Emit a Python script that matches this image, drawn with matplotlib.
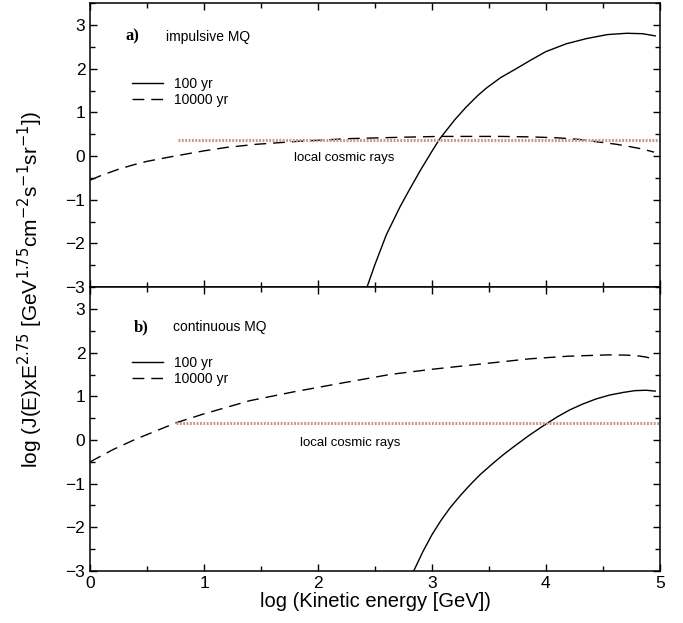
import numpy as np
import matplotlib
matplotlib.use("Agg")
import matplotlib.pyplot as plt
from matplotlib.lines import Line2D
from matplotlib.ticker import MultipleLocator

plt.rcParams['font.family'] = ['Liberation Sans', 'DejaVu Sans']

# panel a) impulsive MQ
imp_100_x = [2.43, 2.5, 2.6, 2.72, 2.8, 2.9, 3.0, 3.07, 3.2, 3.3, 3.4, 3.48,
             3.6, 3.74, 3.87, 4.0, 4.18, 4.36, 4.54, 4.71, 4.85, 4.96]
imp_100_y = [-3.0, -2.48, -1.8, -1.16, -0.78, -0.32, 0.11, 0.4, 0.83, 1.12, 1.38, 1.56,
             1.79, 2.0, 2.2, 2.39, 2.57, 2.69, 2.78, 2.81, 2.8, 2.75]
imp_1e4_x = [0.0, 0.1, 0.25, 0.38, 0.5, 0.7, 0.85, 1.0, 1.2, 1.46, 1.84, 2.28, 2.72,
             3.07, 3.6, 3.85, 4.09, 4.3, 4.47, 4.62, 4.75, 4.85, 4.95]
imp_1e4_y = [-0.55, -0.44, -0.3, -0.2, -0.12, -0.02, 0.05, 0.12, 0.2, 0.27, 0.34, 0.4, 0.43,
             0.45, 0.45, 0.44, 0.42, 0.38, 0.32, 0.27, 0.21, 0.16, 0.09]
imp_local_x = [0.77, 5.0]
imp_local_y = [0.37, 0.37]

# panel b) continuous MQ
con_100_x = [2.84, 2.92, 3.0, 3.08, 3.16, 3.25, 3.33, 3.42, 3.52, 3.62, 3.72, 3.85,
             3.98, 4.1, 4.21, 4.32, 4.44, 4.56, 4.68, 4.78, 4.88, 4.96]
con_100_y = [-3.0, -2.56, -2.17, -1.84, -1.55, -1.27, -1.04, -0.8, -0.57, -0.35, -0.15, 0.1,
             0.33, 0.53, 0.69, 0.82, 0.94, 1.03, 1.09, 1.13, 1.14, 1.12]
con_1e4_x = [0.0, 0.2, 0.4, 0.76, 1.0, 1.4, 1.78, 2.2, 2.63, 3.0, 3.5, 3.86, 4.2,
             4.55, 4.7, 4.8, 4.88, 4.95]
con_1e4_y = [-0.5, -0.22, 0.02, 0.4, 0.6, 0.9, 1.1, 1.3, 1.5, 1.62, 1.76, 1.86, 1.92,
             1.95, 1.945, 1.93, 1.9, 1.85]
con_local_x = [0.75, 5.0]
con_local_y = [0.40, 0.40]

series_labels = ['100 yr', '10000 yr']

DASH = (8.5, 5)
CR_COLOR = '#cc9292'

fig = plt.figure(figsize=(6.83, 6.23), dpi=100)
ax_a = fig.add_axes([0.132, 0.539, 0.834, 0.456])
ax_b = fig.add_axes([0.132, 0.0835, 0.834, 0.4555])


def draw_panel(ax, x100, y100, x1e4, y1e4, xl, yl, tag, title, txt_xy, leg_y):
    ax.plot(x100, y100, color='black', lw=1.0)
    ax.plot(x1e4, y1e4, color='black', lw=1.0, dashes=DASH)
    ax.plot(xl, yl, color=CR_COLOR, lw=2.2, linestyle=(0, (0.6, 0.5)))

    ax.set_xlim(0, 5)
    ax.set_ylim(-3, 3.5)
    ax.xaxis.set_major_locator(MultipleLocator(1))
    ax.xaxis.set_minor_locator(MultipleLocator(0.5))
    ax.yaxis.set_major_locator(MultipleLocator(1))
    ax.yaxis.set_minor_locator(MultipleLocator(0.5))
    ax.tick_params(which='both', direction='in', top=True, right=True,
                   labelsize=12.5, width=1.0)
    ax.tick_params(which='major', length=5)
    ax.tick_params(which='minor', length=3.5)
    for s in ax.spines.values():
        s.set_linewidth(1.1)

    ax.text(tag[0], tag[1], tag[2], fontsize=12, fontweight='bold',
            family=['Liberation Serif', 'DejaVu Serif'], va='center')
    ax.text(title[0], title[1], title[2], fontsize=10, va='center')
    ax.text(txt_xy[0], txt_xy[1], 'local cosmic rays', fontsize=9.5,
            va='center', ha='center')

    handles = [Line2D([], [], color='black', lw=1.0),
               Line2D([], [], color='black', lw=1.0, dashes=DASH)]
    ax.legend(handles, series_labels, loc='center left',
              bbox_to_anchor=(0.074, leg_y), frameon=False, fontsize=10,
              handlelength=2.2, handletextpad=0.8, labelspacing=0.15,
              borderpad=0, borderaxespad=0)


draw_panel(ax_a, imp_100_x, imp_100_y, imp_1e4_x, imp_1e4_y,
           imp_local_x, imp_local_y,
           (0.31, 2.73, 'a)'), (0.67, 2.73, 'impulsive MQ'),
           (2.23, -0.04), 0.688)
draw_panel(ax_b, con_100_x, con_100_y, con_1e4_x, con_1e4_y,
           con_local_x, con_local_y,
           (0.38, 2.59, 'b)'), (0.73, 2.59, 'continuous MQ'),
           (2.28, -0.06), 0.706)

ax_a.tick_params(labelbottom=False)
ax_b.set_xlabel('log (Kinetic energy [GeV])', fontsize=14.5, labelpad=1)

fig.text(0.044, 0.535,
         r'log (J(E)xE$^{2.75}$ [GeV$^{1.75}$cm$^{-2}$s$^{-1}$sr$^{-1}$])',
         rotation=90, fontsize=15, ha='center', va='center')

fig.savefig('out.png', dpi=100)
